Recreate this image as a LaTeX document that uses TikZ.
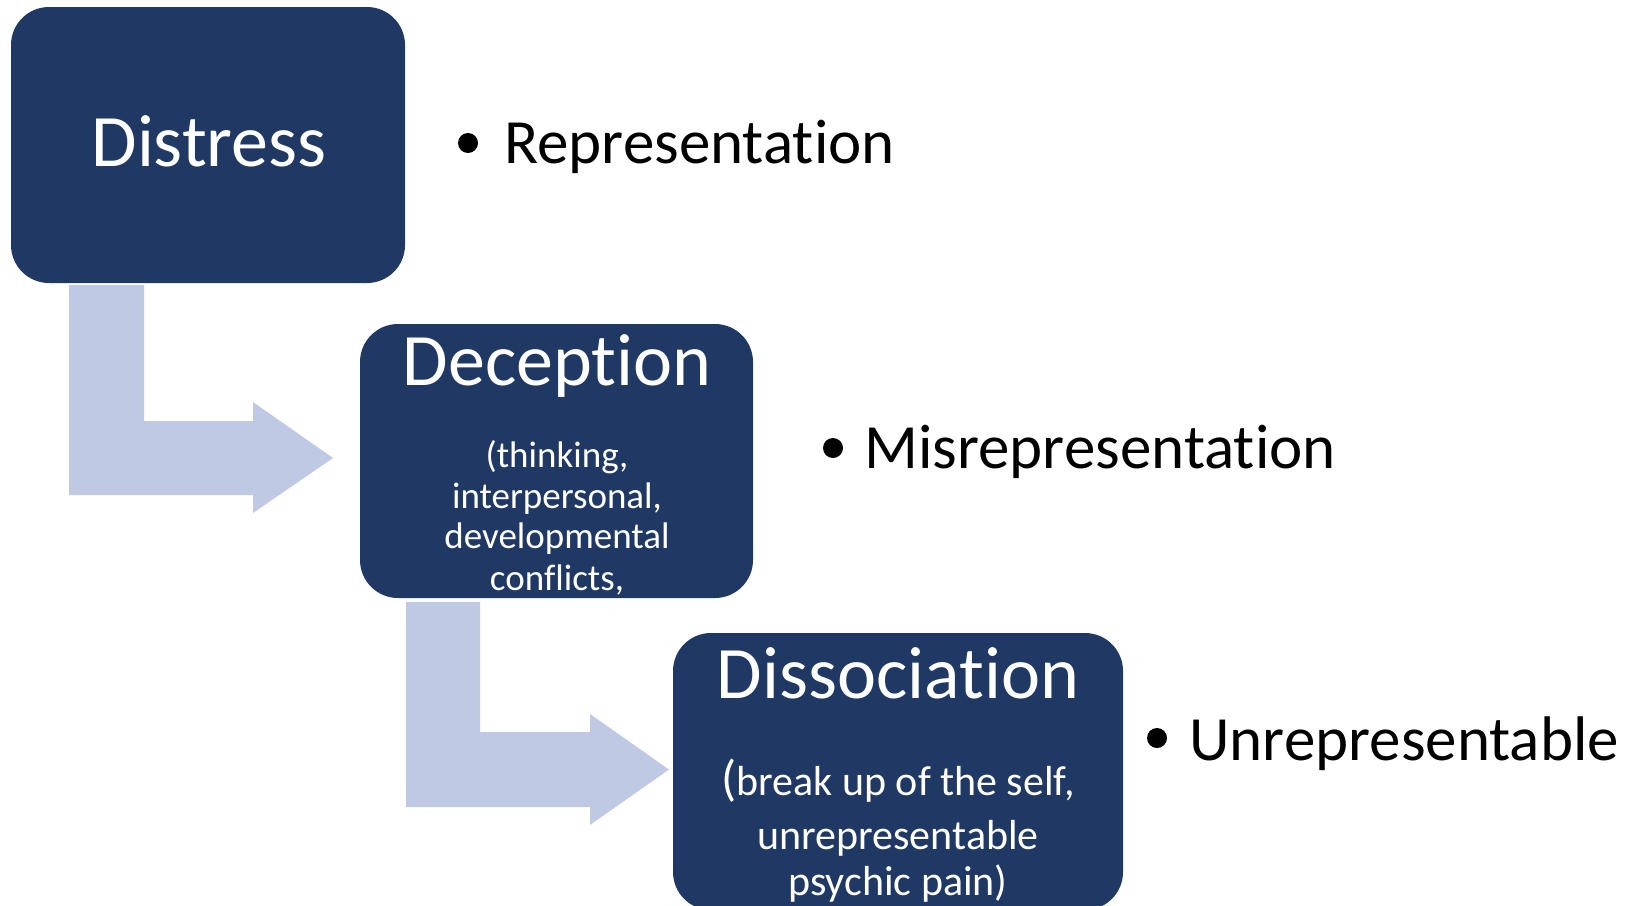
\documentclass[tikz,border=0pt]{standalone}
\usepackage{fontspec}
\setmainfont{Carlito}[Ligatures={NoCommon,NoContextual}]
\definecolor{navy}{RGB}{32,56,100}
\definecolor{lightarrow}{RGB}{191,201,227}
\begin{document}
\begin{tikzpicture}[x=0.5pt,y=-0.5pt,
  box/.style={rectangle, rounded corners=19pt, fill=navy, draw=none, inner sep=0pt},
  arrowshape/.style={fill=lightarrow, draw=none},
  title/.style={anchor=base, text=white, font=\fontsize{37}{44}\selectfont, inner sep=0pt},
  subA/.style={anchor=base, text=white, font=\fontsize{18.5}{22}\selectfont, inner sep=0pt},
  subB/.style={anchor=base, text=white, font=\fontsize{21}{25}\selectfont, inner sep=0pt},
  bul/.style={anchor=base west, text=black, font=\fontsize{31.5}{38}\selectfont, inner sep=0pt},
  dot/.style={circle, fill=black, inner sep=0pt, minimum size=10pt}
]
\useasboundingbox (0,0) rectangle (1641,905);

% bent arrows
\fill[arrowshape] (69,285) -- (144,285) -- (144,421) -- (253,421) -- (253,402) -- (333,458) -- (253,513) -- (253,495) -- (69,495) -- cycle;
\fill[arrowshape] (406,602) -- (480,602) -- (480,732) -- (590,732) -- (590,714) -- (669,769.5) -- (590,825) -- (590,807) -- (406,807) -- cycle;

% boxes
\node[box, minimum width=197pt, minimum height=138pt] (b1) at (208,145) {};
\node[box, minimum width=196.5pt, minimum height=137pt] (b2) at (556.5,461) {};
\node[box, minimum width=225pt, minimum height=138.5pt] (b3) at (898,771.5) {};

% box texts
\node[title] (t1) at (209,166) {Distress};
\node[title] (t2) at (557,385) {Deception};
\node[subA] (s2a) at (557,467) {(thinking,};
\node[subA] (s2b) at (557,508) {interpersonal,};
\node[subA] (s2c) at (557,548) {developmental};
\node[subA] (s2d) at (557,590) {conflicts,};
\node[title] (t3) at (898,698) {Dissociation};
\node[subB] (s3a) at (898,795) {{\fontsize{25}{30}\selectfont(}break up of the self,};
\node[subB] (s3b) at (898,849) {unrepresentable};
\node[subB] (s3c) at (898,895) {psychic pain)};

% bullets
\node[dot] (p1) at (468,143) {};
\node[bul] (r1) at (504,163) {Representation};
\node[dot] (p2) at (833,448) {};
\node[bul] (r2) at (864,468) {Misrepresentation};
\node[dot] (p3) at (1157,738) {};
\node[bul] (r3) at (1189,760) {Unrepresentable};
\end{tikzpicture}
\end{document}
